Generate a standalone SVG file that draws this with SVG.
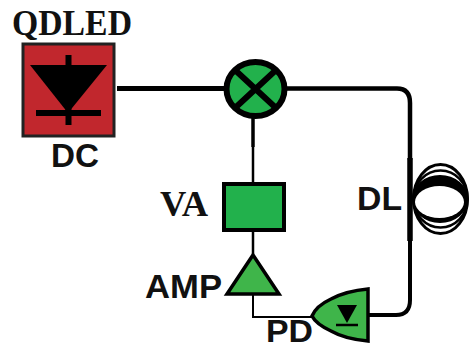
<svg xmlns="http://www.w3.org/2000/svg" width="470" height="349" viewBox="0 0 470 349">
<style>
.b{font-family:"Liberation Sans",Arial,sans-serif;font-weight:bold;fill:#111}
.s{font-family:"Liberation Serif","Times New Roman",serif;font-weight:bold;fill:#111}
.k{fill:none;stroke:#000}
.g{fill:#22b14c;stroke:#000}
.l{fill:#3fb54a;stroke:#000;stroke-linejoin:miter}
</style>
<rect width="470" height="349" fill="#fff"/>
<g id="connectors" fill="none" stroke="#000">
<path d="M117 88.500H226" stroke-width="5"/>
<path d="M286 88.500H397Q410 88.500 410 103V160" stroke-width="4.500"/>
<path d="M410 160V300Q410 315 396 315H368" stroke-width="4"/>
<path d="M253 115V147" stroke-width="3.500"/>
<path d="M253 147V184" stroke-width="2.500"/>
<path d="M253 231V254" stroke-width="2.500"/>
<path d="M253 295V317H313" stroke-width="2"/>
</g>
<g id="qdled">
<rect x="23" y="44" width="91" height="92" fill="#c1272d" stroke="#222" stroke-width="3"/>
<path d="M30 65H107L68 113Z" fill="#000"/>
<path d="M68.500 55V125M36 113H101" stroke="#000" stroke-width="6" fill="none"/>
<text class="s" x="12" y="35" font-size="35" textLength="120" lengthAdjust="spacingAndGlyphs">QDLED</text>
<text class="b" x="51" y="167" font-size="33" textLength="48" lengthAdjust="spacingAndGlyphs">DC</text>
</g>
<g id="mixer">
<ellipse cx="255.500" cy="89" rx="29" ry="27" class="g" stroke-width="6"/>
<path d="M235 70L276 108M276 70L235 108" class="k" stroke-width="6"/>
</g>
<g id="va">
<rect x="224" y="184" width="60" height="46" class="g" stroke-width="4"/>
<text class="s" x="160" y="216" font-size="35" textLength="48" lengthAdjust="spacingAndGlyphs">VA</text>
</g>
<g id="amp">
<path d="M253 255L279 294H227Z" class="l" stroke-width="3.500"/>
<text class="b" x="145" y="298" font-size="34" textLength="77" lengthAdjust="spacingAndGlyphs">AMP</text>
</g>
<g id="pd">
<path d="M368 289V341Q345 339 331 331Q316 324 312 316Q316 306 331 299Q346 291 368 289Z" class="l" stroke-width="3.500"/>
<path d="M337 305H357L347 323Z" fill="#000"/>
<path d="M336 325H358" stroke="#000" stroke-width="2.500" fill="none"/>
<text class="b" x="266" y="342" font-size="32" textLength="47" lengthAdjust="spacingAndGlyphs">PD</text>
</g>
<g id="dl">
<g class="k">
<ellipse cx="440.500" cy="199" rx="27" ry="34.500" stroke-width="3"/>
<ellipse cx="440.500" cy="199" rx="27" ry="28.500" stroke-width="2.500"/>
</g>
<ellipse cx="440" cy="199" rx="28" ry="24" fill="#000"/>
<ellipse cx="439.500" cy="202" rx="24.500" ry="16" fill="#fff"/>
<path d="M410 158V241" stroke="#000" stroke-width="5.500"/>
<text class="b" x="357" y="210" font-size="34" textLength="45" lengthAdjust="spacingAndGlyphs">DL</text>
</g>
</svg>
